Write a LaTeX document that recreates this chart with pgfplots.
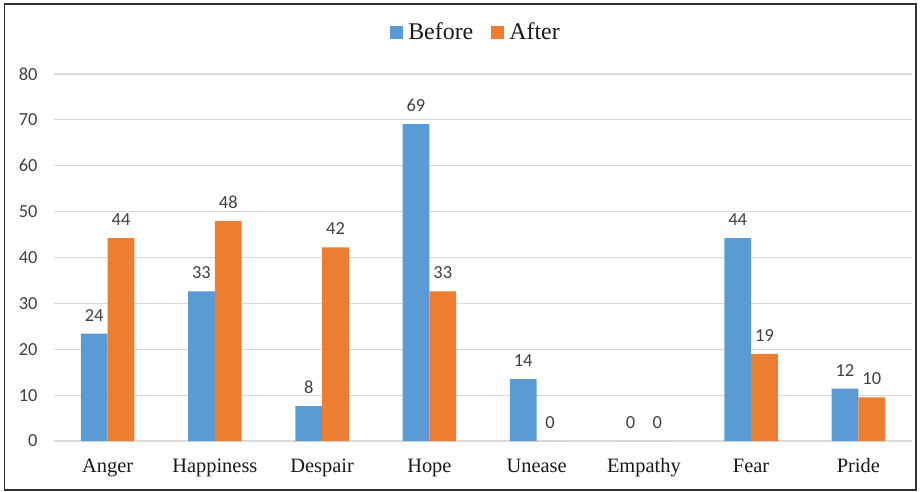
\documentclass[border=0pt]{standalone}
\usepackage{fontspec}
\setmainfont{Liberation Serif}
\newfontfamily\carlito{Carlito}
\usepackage{pgfplots}
\pgfplotsset{compat=1.18}
\definecolor{cblue}{HTML}{5B9BD5}
\definecolor{corange}{HTML}{ED7D31}
\definecolor{gridc}{HTML}{D9D9D9}
\definecolor{txt}{HTML}{404040}
\begin{document}
\begin{tikzpicture}
\begin{axis}[name=ax, at={(0,0)}, anchor=south west,
  scale only axis, width=858bp, height=367bp,
  xmin=-0.5, xmax=7.5, ymin=0, ymax=80,
  ytick={0,10,...,80}, xtick={0,...,7},
  xticklabels={Anger,Happiness,Despair,Hope,Unease,Empathy,Fear,Pride},
  axis line style={draw=none}, major tick length=0pt,
  ymajorgrids, grid style={gridc, line width=1.2bp},
  /pgf/number format/assume math mode=true,
  yticklabel style={font=\carlito\fontsize{18.5}{21}\selectfont, text=txt, xshift=-13bp},
  xticklabel style={font=\fontsize{20.5}{24}\selectfont, text=black!90, text height=14bp, text depth=4bp, yshift=-14bp},
  clip=false,
  point meta=explicit symbolic,
  nodes near coords={\pgfplotspointmeta},
  every node near coord/.append style={font=\carlito\fontsize{18.5}{21}\selectfont, text=txt, anchor=south, yshift=9bp},
  legend columns=2,
  legend style={at={(0.4907,1.114)}, anchor=center, draw=none, fill=none,
    font=\fontsize{24}{28}\selectfont, text=black!90,
    nodes={inner sep=0pt},
    /tikz/every odd column/.append style={column sep=5bp},
    /tikz/every even column/.append style={column sep=18bp}},
]
\addplot[ybar, bar width=0.25, bar shift=-0.125, fill=cblue, draw=none,
  every node near coord/.append style={xshift=-13.4bp},
  legend image code/.code={\fill[cblue] (0bp,-6.5bp) rectangle (13bp,6.5bp);}]
  coordinates {(0,23.4)[24] (1,32.6)[33] (2,7.6)[8] (3,69.1)[69] (4,13.5)[14] (5,0)[0] (6,44.2)[44] (7,11.4)[12]};
\addlegendentry{Before}
\addplot[ybar, bar width=0.25, bar shift=0.125, fill=corange, draw=none,
  every node near coord/.append style={xshift=13.4bp},
  legend image code/.code={\fill[corange] (0bp,-6.5bp) rectangle (13bp,6.5bp);}]
  coordinates {(0,44.2)[44] (1,48.0)[48] (2,42.2)[42] (3,32.6)[33] (4,0)[0] (5,0)[0] (6,19.0)[19] (7,9.5)[10]};
\addlegendentry{After}
\end{axis}
\draw[line width=1.3bp, color=black!80] (-49.5bp,-49bp) rectangle (862bp,437bp);
\pgfresetboundingbox
\useasboundingbox (-54bp,-51bp) rectangle (867bp,441bp);
\end{tikzpicture}
\end{document}
